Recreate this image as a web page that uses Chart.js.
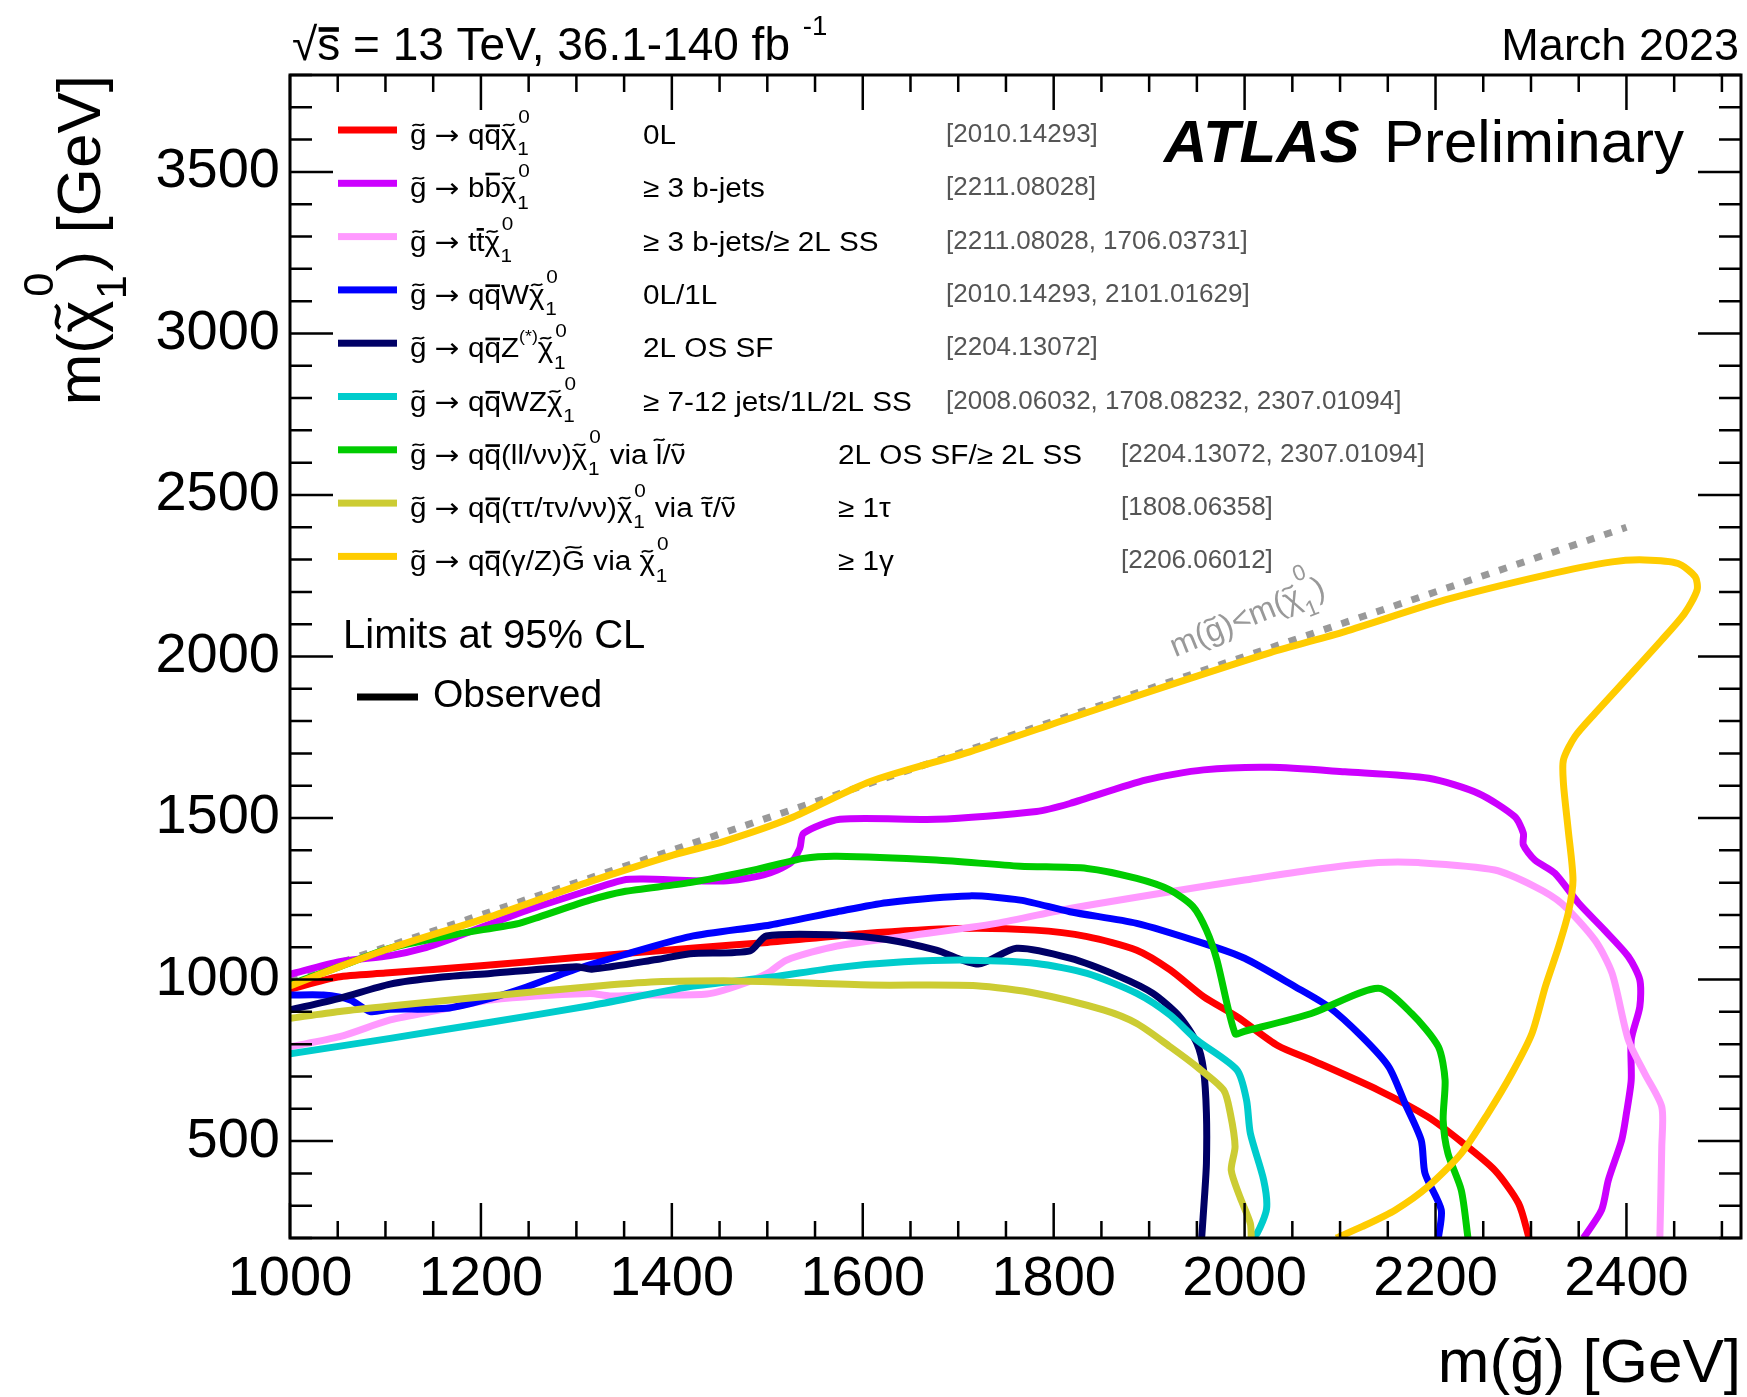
<!DOCTYPE html>
<html>
<head>
<meta charset="utf-8">
<script src="https://cdn.jsdelivr.net/npm/chart.js@4.4.1/dist/chart.umd.min.js"></script>
<style>
  html, body { margin: 0; padding: 0; background: #fff; }
</style>
</head>
<body>
<canvas id="myChart" width="1747" height="1397"></canvas>
<script>
// axis ranges and tick labels
const xRange = [1000, 2520];
const yRange = [200, 3800];
const xTicks = [1000, 1200, 1400, 1600, 1800, 2000, 2200, 2400];
const yTicks = [500, 1000, 1500, 2000, 2500, 3000, 3500];

// observed exclusion contours, [m(gluino), m(neutralino)] in GeV
const redXY = [[1000,970],[1050,1008],[1100,1020],[1200,1043],[1300,1068],[1420,1097],[1500,1115],[1600,1142],[1700,1158],[1780,1153],[1835,1133],[1887,1091],[1922,1030],[1957,947],[1992,885],[2035,795],[2070,751],[2140,658],[2192,575],[2227,498],[2262,410],[2287,307],[2298,200]];
const purpleXY = [[1000,1016],[1052,1055],[1105,1074],[1140,1097],[1175,1133],[1244,1210],[1314,1277],[1349,1308],[1370,1311],[1454,1305],[1496,1324],[1524,1360],[1534,1406],[1538,1453],[1576,1496],[1677,1496],[1782,1520],[1817,1545],[1897,1618],[1957,1649],[2027,1657],[2105,1643],[2193,1623],[2245,1576],[2283,1504],[2292,1453],[2292,1417],[2304,1370],[2325,1329],[2350,1236],[2377,1153],[2402,1071],[2414,999],[2414,916],[2405,813],[2405,689],[2400,586],[2395,503],[2381,379],[2374,287],[2355,200]];
const pinkXY = [[1000,792],[1052,823],[1105,875],[1157,906],[1210,937],[1314,957],[1335,949],[1367,952],[1437,955],[1471,983],[1500,1019],[1520,1060],[1573,1104],[1643,1133],[1740,1174],[1817,1220],[1922,1272],[2000,1308],[2070,1339],[2140,1362],[2182,1362],[2262,1339],[2304,1288],[2332,1236],[2367,1122],[2385,1019],[2402,813],[2419,710],[2437,606],[2437,483],[2435,200]];
const blueXY = [[1000,952],[1035,952],[1063,937],[1084,901],[1105,908],[1164,911],[1210,942],[1244,973],[1297,1030],[1349,1076],[1419,1133],[1503,1169],[1573,1210],[1625,1238],[1712,1259],[1765,1246],[1817,1210],[1887,1174],[1957,1112],[2000,1066],[2053,978],[2088,916],[2123,823],[2151,730],[2168,617],[2185,503],[2189,400],[2206,287],[2203,200]];
const navyXY = [[1000,906],[1052,942],[1105,986],[1157,1007],[1210,1019],[1300,1040],[1316,1032],[1384,1062],[1419,1080],[1482,1089],[1499,1135],[1573,1138],[1625,1124],[1677,1091],[1721,1048],[1761,1097],[1817,1066],[1869,1009],[1904,957],[1932,885],[1950,803],[1957,720],[1960,586],[1960,431],[1958,328],[1955,200]];
const cyanXY = [[1000,770],[1105,818],[1210,868],[1314,919],[1419,978],[1503,1007],[1573,1037],[1643,1055],[1712,1060],[1782,1050],[1835,1019],[1887,957],[1922,890],[1950,813],[1992,720],[2002,627],[2006,524],[2020,379],[2023,290],[2013,214],[2006,200]];
const greenXY = [[1000,985],[1052,1040],[1105,1097],[1175,1141],[1237,1172],[1262,1195],[1314,1246],[1349,1272],[1419,1300],[1489,1341],[1538,1375],[1573,1382],[1677,1370],[1765,1351],[1835,1344],[1887,1313],[1922,1277],[1946,1226],[1960,1153],[1971,1060],[1990,833],[2000,840],[2070,895],[2140,973],[2175,895],[2203,792],[2210,689],[2208,565],[2213,462],[2227,348],[2234,200]];
const oliveXY = [[1000,880],[1052,901],[1105,918],[1210,949],[1314,978],[1384,993],[1454,996],[1503,993],[1608,983],[1719,981],[1782,957],[1852,906],[1887,864],[1922,792],[1950,730],[1978,658],[1985,586],[1990,483],[1986,410],[1995,328],[2006,245],[2007,200]];
const yellowXY = [[1000,980],[1052,1040],[1105,1097],[1210,1195],[1314,1303],[1402,1386],[1454,1427],[1524,1499],[1608,1613],[1712,1705],[1817,1809],[1922,1912],[2027,2012],[2105,2077],[2210,2175],[2315,2252],[2385,2293],[2419,2299],[2454,2288],[2472,2247],[2474,2206],[2461,2134],[2437,2051],[2402,1937],[2367,1824],[2346,1752],[2334,1680],[2334,1607],[2339,1463],[2344,1308],[2339,1205],[2329,1102],[2315,978],[2301,833],[2280,710],[2255,586],[2227,462],[2192,359],[2158,287],[2123,235],[2096,200]];
const diagXY = [[1000,1000],[2400,2400]];

// legend texts ('~x' tilde over x, '=x' bar over x, '_a^b' sub/sup, '^a' sup, '!x' symbol font)
const ARROW = ['~g', ' ', '!\u2192', ' '];
const decayLabels = [
  [...ARROW, 'q', '=q', '~\u03C7', '_1^0'],
  [...ARROW, 'b', '=b', '~\u03C7', '_1^0'],
  [...ARROW, 't', '=t', '~\u03C7', '_1^0'],
  [...ARROW, 'q', '=q', 'W', '~\u03C7', '_1^0'],
  [...ARROW, 'q', '=q', 'Z', '^(*)', '~\u03C7', '_1^0'],
  [...ARROW, 'q', '=q', 'WZ', '~\u03C7', '_1^0'],
  [...ARROW, 'q', '=q', '(ll/\u03BD\u03BD)', '~\u03C7', '_1^0', ' via ', '~l', '/', '~\u03BD'],
  [...ARROW, 'q', '=q', '(\u03C4\u03C4/\u03C4\u03BD/\u03BD\u03BD)', '~\u03C7', '_1^0', ' via ', '~\u03C4', '/', '~\u03BD'],
  [...ARROW, 'q', '=q', '(\u03B3/Z)', '~G', ' via ', '~\u03C7', '_1^0']
];
const selLabels = ['0L', '\u2265 3 b-jets', '\u2265 3 b-jets/\u2265 2L SS', '0L/1L', '2L OS SF',
  '\u2265 7-12 jets/1L/2L SS', '2L OS SF/\u2265 2L SS', '\u2265 1\u03C4', '\u2265 1\u03B3'];
const refLabels = ['[2010.14293]', '[2211.08028]', '[2211.08028, 1706.03731]', '[2010.14293, 2101.01629]',
  '[2204.13072]', '[2008.06032, 1708.08232, 2307.01094]', '[2204.13072, 2307.01094]', '[1808.06358]', '[2206.06012]'];
const colors = ['#ff0000', '#cc00ff', '#ff99ff', '#0000ff', '#000066', '#00cccc', '#00cc00', '#cccc33', '#ffcc00'];
const seriesData = [redXY, purpleXY, pinkXY, blueXY, navyXY, cyanXY, greenXY, oliveXY, yellowXY];

const FONT = '"Liberation Sans", Arial, Helvetica, sans-serif';
const SYMFONT = '"DejaVu Sans", sans-serif';

function richText(ctx, tokens, x, y, size, o) {
  o = o || {};
  ctx.save();
  ctx.translate(x, y);
  if (o.rot) ctx.rotate(o.rot);
  if (o.sx) ctx.scale(o.sx, 1);
  ctx.fillStyle = o.color || '#000';
  ctx.strokeStyle = o.color || '#000';
  ctx.textBaseline = 'alphabetic';
  ctx.textAlign = 'left';
  const draw = !o.measure;
  const setF = s => { ctx.font = (o.style ? o.style + ' ' : '') + s + 'px ' + FONT; };
  let cx = 0;
  for (const tk of tokens) {
    const k = tk[0];
    if ((k === '~' || k === '=') && tk.length > 1) {
      const ch = tk.slice(1);
      setF(size);
      const m = ctx.measureText(ch);
      const w = m.width, top = m.actualBoundingBoxAscent;
      if (draw) {
        ctx.fillText(ch, cx, 0);
        if (k === '~') {
          const tw = Math.max(w * 0.7, size * 0.36), amp = size * 0.05;
          const mx = cx + w / 2, my = -top - size * 0.15;
          ctx.lineWidth = size * 0.065;
          ctx.beginPath();
          ctx.moveTo(mx - tw / 2, my + amp * 0.8);
          ctx.bezierCurveTo(mx - tw / 5, my - amp * 2.4, mx + tw / 5, my + amp * 2.4, mx + tw / 2, my - amp * 0.8);
          ctx.stroke();
        } else {
          ctx.fillRect(cx + w * 0.06, -top - size * 0.17, w * 0.88, size * 0.1);
        }
      }
      cx += w;
    } else if (k === '!' && tk.length > 1) {
      const t = tk.slice(1);
      ctx.font = size + 'px ' + SYMFONT;
      if (draw) ctx.fillText(t, cx, 0);
      cx += ctx.measureText(t).width;
    } else if (k === '_' && tk.length > 1) {
      const parts = tk.slice(1).split('^');
      setF(size * 0.7);
      const w1 = ctx.measureText(parts[0]).width;
      const w2 = parts[1] ? ctx.measureText(parts[1]).width : 0;
      if (draw) {
        ctx.fillText(parts[0], cx + size * 0.02, size * 0.42);
        if (parts[1]) ctx.fillText(parts[1], cx + size * 0.06, -size * 0.76);
      }
      cx += Math.max(w1, w2) + size * 0.08;
    } else if (k === '^' && tk.length > 1) {
      const t = tk.slice(1);
      setF(size * 0.6);
      if (draw) ctx.fillText(t, cx, -size * 0.55);
      cx += ctx.measureText(t).width;
    } else {
      setF(size);
      if (draw) ctx.fillText(tk, cx, 0);
      cx += ctx.measureText(tk).width;
    }
  }
  ctx.restore();
  return cx * (o.sx || 1);
}

const frame = {
  id: 'frame',
  afterDatasetsDraw(chart) {
    const { ctx, chartArea: a, scales: { x, y } } = chart;
    ctx.save();
    ctx.strokeStyle = '#000';
    ctx.lineWidth = 2.5;
    ctx.beginPath();
    for (let v = xRange[0]; v <= xRange[1]; v += 50) {
      const px = x.getPixelForValue(v);
      const L = (v - 1000) % 200 === 0 ? 35 : 17;
      ctx.moveTo(px, a.bottom); ctx.lineTo(px, a.bottom - L);
      ctx.moveTo(px, a.top); ctx.lineTo(px, a.top + L);
    }
    for (let v = yRange[0]; v <= yRange[1]; v += 100) {
      const py = y.getPixelForValue(v);
      const L = v % 500 === 0 ? 43 : 22;
      ctx.moveTo(a.left, py); ctx.lineTo(a.left + L, py);
      ctx.moveTo(a.right, py); ctx.lineTo(a.right - L, py);
    }
    ctx.stroke();
    ctx.lineWidth = 3;
    ctx.strokeRect(a.left, a.top, a.right - a.left, a.bottom - a.top);
    ctx.restore();
  }
};

const annotations = {
  id: 'annotations',
  afterDraw(chart) {
    const { ctx, chartArea: a, scales: { x, y } } = chart;
    // header
    richText(ctx, ['\u221A', '=s', ' = 13 TeV, 36.1-140 fb ', '^-1'], 292, 60, 46);
    ctx.save();
    ctx.font = '45px ' + FONT;
    ctx.textAlign = 'right';
    ctx.fillStyle = '#000';
    ctx.fillText('March 2023', 1739, 60);
    ctx.restore();
    // ATLAS label
    richText(ctx, ['ATLAS'], 1164, 162, 60, { style: 'italic bold' });
    richText(ctx, ['Preliminary'], 1384, 162, 60);

    // legend
    for (let i = 0; i < decayLabels.length; i++) {
      const ry = 130 + i * 53.3;
      ctx.fillStyle = colors[i];
      ctx.fillRect(338, ry - 3.5, 59, 7);
      richText(ctx, decayLabels[i], 410, ry + 14, 27, { sx: 1.1 });
      richText(ctx, [selLabels[i]], i < 6 ? 643 : 838, ry + 14, 27, { sx: 1.1 });
      richText(ctx, [refLabels[i]], i < 6 ? 946 : 1121, ry + 12, 26, { color: '#555' });
    }
    richText(ctx, ['Limits at 95% CL'], 343, 648, 40);
    ctx.fillStyle = '#000';
    ctx.fillRect(357, 693.5, 61, 7);
    richText(ctx, ['Observed'], 433, 707, 39);

    // kinematic limit label
    const lx = x.getPixelForValue(1927), ly = y.getPixelForValue(1998);
    richText(ctx, ['m(', '~g', ')<m(', '~\u03C7', '_1^0', ')'], lx, ly, 32, { rot: -22 * Math.PI / 180, color: '#999' });

    // axis titles
    const xt = ['m(', '~g', ') [GeV]'];
    const xw = richText(ctx, xt, 0, 0, 62, { measure: true });
    richText(ctx, xt, a.right - xw, 1382, 62);
    const yt = ['m(', '~\u03C7', '_1^0', ') [GeV]'];
    const yw = richText(ctx, yt, 0, 0, 62, { measure: true });
    richText(ctx, yt, 100, a.top + yw, 62, { rot: -Math.PI / 2 });
  }
};

const datasets = seriesData.map((d, i) => ({
  label: selLabels[i],
  data: d.map(p => ({ x: p[0], y: p[1] })),
  borderColor: colors[i],
  borderWidth: 7,
  pointRadius: 0,
  showLine: true,
  tension: 0.25,
  borderJoinStyle: 'round',
  fill: false,
  clip: 0,
  order: 10 - i
}));
datasets.push({
  label: 'kinematic limit',
  data: diagXY.map(p => ({ x: p[0], y: p[1] })),
  borderColor: '#999999',
  borderWidth: 7,
  borderDash: [8, 10.5],
  pointRadius: 0,
  showLine: true,
  clip: 0,
  order: 20
});

const ctx = document.getElementById('myChart').getContext('2d');
const myChart = new Chart(ctx, {
  type: 'scatter',
  data: { datasets: datasets },
  options: {
    responsive: false,
    animation: false,
    layout: { padding: { left: 0, top: 75, right: 6, bottom: 0 } },
    plugins: { legend: { display: false }, tooltip: { enabled: false } },
    scales: {
      x: {
        type: 'linear',
        min: xRange[0],
        max: xRange[1],
        afterBuildTicks: s => { s.ticks = xTicks.map(v => ({ value: v })); },
        afterFit: s => { s.height = 159; },
        grid: { display: false, drawTicks: false },
        border: { display: false },
        ticks: {
          color: '#000',
          font: { family: FONT, size: 56 },
          padding: 8,
          maxRotation: 0,
          autoSkip: false,
          callback: v => String(v)
        }
      },
      y: {
        type: 'linear',
        min: yRange[0],
        max: yRange[1],
        afterBuildTicks: s => { s.ticks = yTicks.map(v => ({ value: v })); },
        afterFit: s => { s.width = 290; },
        grid: { display: false, drawTicks: false },
        border: { display: false },
        ticks: {
          color: '#000',
          font: { family: FONT, size: 56 },
          padding: 10,
          autoSkip: false,
          callback: v => String(v)
        }
      }
    }
  },
  plugins: [frame, annotations]
});
</script>
</body>
</html>
